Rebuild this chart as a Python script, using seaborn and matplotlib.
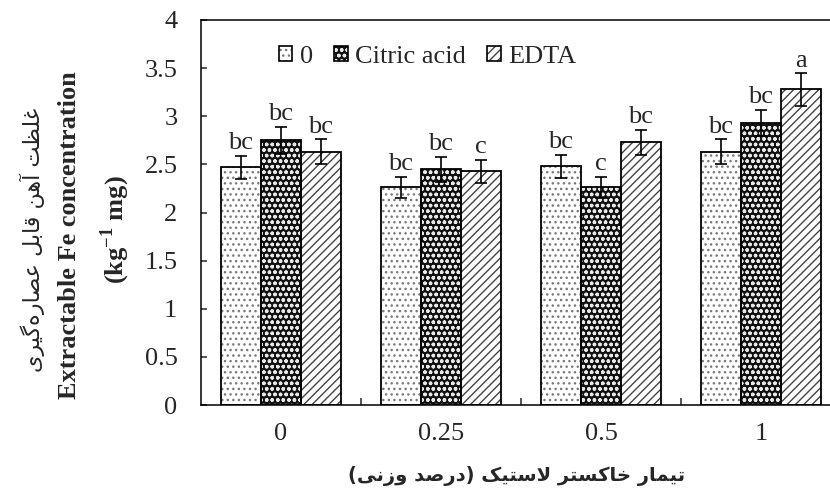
import matplotlib
matplotlib.use("Agg")
import matplotlib.pyplot as plt
from matplotlib.patches import Patch, Rectangle
from matplotlib.legend_handler import HandlerTuple
import seaborn as sns
import pandas as pd

# data
levels = ["0", "0.25", "0.5", "1"]
agents = ["0", "Citric acid", "EDTA"]
fe_zero = [2.47, 2.26, 2.48, 2.63]
fe_citric = [2.75, 2.45, 2.26, 2.93]
fe_edta = [2.63, 2.43, 2.73, 3.28]
err_zero = [0.12, 0.11, 0.12, 0.13]
err_citric = [0.14, 0.13, 0.11, 0.14]
err_edta = [0.13, 0.12, 0.13, 0.17]
let_zero = ["bc", "bc", "bc", "bc"]
let_citric = ["bc", "bc", "c", "bc"]
let_edta = ["bc", "c", "bc", "a"]
yticks = [0, 0.5, 1, 1.5, 2, 2.5, 3, 3.5, 4]
ytick_labels = ["0", "0.5", "1", "1.5", "2", "2.5", "3", "3.5", "4"]

ylabel_fa = "غلظت آهن قابل عصاره\u200cگیری"
xlabel_fa = "تیمار خاکستر لاستیک (درصد وزنی)"

# arabic shaping by hand (no reshaper available): isolated, final, initial, medial
FORMS = {
    "ا": (0xFE8D, 0xFE8E, None, None),
    "آ": (0xFE81, 0xFE82, None, None),
    "د": (0xFEA9, 0xFEAA, None, None),
    "ر": (0xFEAD, 0xFEAE, None, None),
    "ز": (0xFEAF, 0xFEB0, None, None),
    "و": (0xFEED, 0xFEEE, None, None),
    "ب": (0xFE8F, 0xFE90, 0xFE91, 0xFE92),
    "ت": (0xFE95, 0xFE96, 0xFE97, 0xFE98),
    "خ": (0xFEA5, 0xFEA6, 0xFEA7, 0xFEA8),
    "س": (0xFEB1, 0xFEB2, 0xFEB3, 0xFEB4),
    "ص": (0xFEB9, 0xFEBA, 0xFEBB, 0xFEBC),
    "ظ": (0xFEC5, 0xFEC6, 0xFEC7, 0xFEC8),
    "ع": (0xFEC9, 0xFECA, 0xFECB, 0xFECC),
    "غ": (0xFECD, 0xFECE, 0xFECF, 0xFED0),
    "ق": (0xFED5, 0xFED6, 0xFED7, 0xFED8),
    "ل": (0xFEDD, 0xFEDE, 0xFEDF, 0xFEE0),
    "م": (0xFEE1, 0xFEE2, 0xFEE3, 0xFEE4),
    "ن": (0xFEE5, 0xFEE6, 0xFEE7, 0xFEE8),
    "ه": (0xFEE9, 0xFEEA, 0xFEEB, 0xFEEC),
    "ک": (0xFB8E, 0xFB8F, 0xFB90, 0xFB91),
    "گ": (0xFB92, 0xFB93, 0xFB94, 0xFB95),
    "ی": (0xFBFC, 0xFBFD, 0xFBFE, 0xFBFF),
}


def dual(c):
    return c in FORMS and FORMS[c][2] is not None


def shape_rtl(text):
    out = []
    i = 0
    while i < len(text):
        c = text[i]
        if c not in FORMS:
            if c != "\u200c":
                out.append(c)
            i += 1
            continue
        prev = text[i - 1] if i > 0 else ""
        nxt = text[i + 1] if i + 1 < len(text) else ""
        jp = dual(prev)
        if c == "ل" and nxt == "ا":
            out.append(chr(0xFEFC if jp else 0xFEFB))
            i += 2
            continue
        jn = dual(c) and nxt in FORMS
        iso, fin, ini, med = FORMS[c]
        if jp and jn:
            g = med
        elif jp:
            g = fin
        elif jn:
            g = ini
        else:
            g = iso
        out.append(chr(g))
        i += 1
    vis = "".join(reversed(out))
    return vis.translate(str.maketrans("()", ")("))


df = pd.DataFrame({
    "level": levels * 3,
    "agent": [a for a in agents for _ in levels],
    "fe": fe_zero + fe_citric + fe_edta,
})
errs = [err_zero, err_citric, err_edta]
letters = [let_zero, let_citric, let_edta]

sns.set_style("white")
plt.rcParams["font.family"] = ["Liberation Serif", "DejaVu Sans"]
plt.rcParams["mathtext.fontset"] = "custom"
plt.rcParams["mathtext.rm"] = "Liberation Serif"
plt.rcParams["mathtext.bf"] = "Liberation Serif:bold"
plt.rcParams["hatch.linewidth"] = 1.0

# fill, hatch, hatch colour per agent
styles = [("white", "...", "#7a7a7a"),
          ("#111111", "ooo", "#e8e8e8"),
          ("white", "////", "#444444")]

fig = plt.figure(figsize=(8.3, 4.93), dpi=100)
ax = fig.add_axes([201 / 830, 88 / 493, 640 / 830, 385 / 493])

sns.barplot(data=df, x="level", y="fe", hue="agent", order=levels,
            hue_order=agents, errorbar=None, width=0.75, legend=False, ax=ax)

for cont, (fc, hatch, hc), err, labs in zip(ax.containers, styles, errs, letters):
    xs, hs = [], []
    for p in cont.patches:
        p.set_facecolor(fc)
        p.set_hatch(hatch)
        p.set_edgecolor(hc)
        p.set_linewidth(0)
        ax.add_patch(Rectangle(p.get_xy(), p.get_width(), p.get_height(),
                               fill=False, ec="black", lw=1.3,
                               zorder=p.get_zorder() + 0.1))
        xs.append(p.get_x() + p.get_width() / 2)
        hs.append(p.get_height())
    ax.errorbar(xs, hs, yerr=err, fmt="none", ecolor="black",
                elinewidth=1.2, capsize=4.5, capthick=1.2, zorder=5)
    for x, h, e, t in zip(xs, hs, err, labs):
        ax.annotate(t, (x, h + e), xytext=(0, 1), textcoords="offset points",
                    ha="center", va="bottom", fontsize=19)

ax.set_xlim(-0.5, 3.5)
ax.set_ylim(0, 4)
ax.set_yticks(yticks)
ax.set_yticklabels(ytick_labels)
ax.set_xticks([0.5, 1.5, 2.5], minor=True)
ax.tick_params(axis="y", direction="in", length=4.5, width=1.1, pad=17,
               labelsize=19, left=True)
ax.tick_params(axis="x", which="major", length=0, pad=13, labelsize=19)
ax.tick_params(axis="x", which="minor", direction="in", length=5, width=1.1,
               bottom=True)
ax.set_xlabel("")
ax.set_ylabel("")
for s in ax.spines.values():
    s.set_linewidth(1.1)
    s.set_color("black")

handles = [(Patch(fc=fc, hatch=hatch, ec=hc, lw=0),
            Patch(fill=False, ec="black", lw=1.2)) for fc, hatch, hc in styles]
ax.legend(handles, agents, handler_map={tuple: HandlerTuple(ndivide=1, pad=0)},
          loc="center left", bbox_to_anchor=(279 / 830, 1 - 57 / 493),
          bbox_transform=fig.transFigure, ncol=3, frameon=False, fontsize=19,
          handlelength=0.5, handleheight=0.5, handletextpad=0.3,
          columnspacing=0.8, borderpad=0, borderaxespad=0)

fig.text(32 / 830, 1 - 240 / 493, shape_rtl(ylabel_fa), rotation=90,
         ha="center", va="center", fontsize=16, family="DejaVu Sans")
fig.text(69 / 830, 1 - 235 / 493, "Extractable Fe concentration", rotation=90,
         ha="center", va="center", fontsize=19, fontweight="bold")
fig.text(115 / 830, 1 - 230 / 493, r"(kg$^{\mathbf{-1}}$ mg)", rotation=90,
         ha="center", va="center", fontsize=19, fontweight="bold")
fig.text(517 / 830, 1 - 476 / 493, shape_rtl(xlabel_fa), ha="center",
         va="center", fontsize=14, fontweight="bold", family="DejaVu Sans")

fig.savefig("out.png", dpi=100)
